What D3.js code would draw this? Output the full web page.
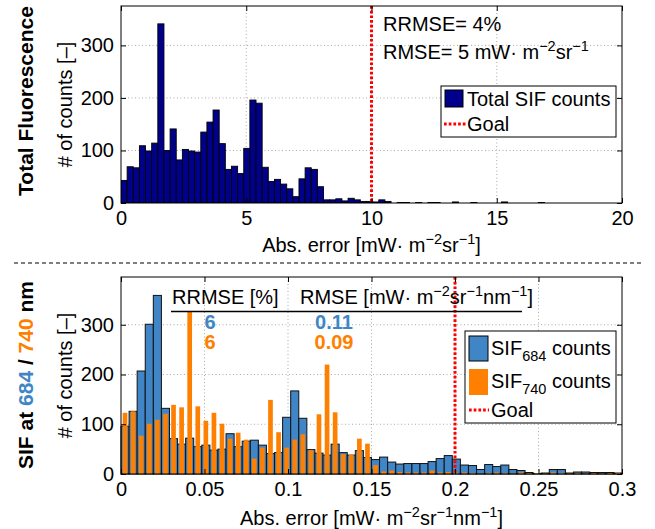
<!DOCTYPE html>
<html>
<head>
<meta charset="utf-8">
<script src="https://cdn.jsdelivr.net/npm/d3@7"></script>
<style>
  body { margin: 0; background: #fff; }
  text { font-family: "Liberation Sans", Arial, Helvetica, sans-serif; }
</style>
</head>
<body>
<svg id="chart" width="655" height="529"></svg>
<script>
// histogram counts
const topBinWidth = 0.245;
const totalSifCounts = [43,69,67,109,99,114,341,100,141,82,102,99,97,135,154,177,113,64,70,56,
  104,196,190,68,41,45,36,27,12,46,67,64,31,6,6,8,4,9,6,3,3,2,6,3,0,1,1,0,1,0,1,1,0,0,2,0,0,1,
  0,0,0,0,2,0,0,0,0,0,1,0,0,0,0,0,0,0,0,0,0,0,0,0];

const botBinWidth = 0.3 / 62;
const sif684Counts = [96,126,207,301,359,132,71,60,72,55,58,48,50,81,55,66,68,58,41,43,114,167,112,
  49,42,38,60,43,38,47,33,29,34,24,20,21,21,21,25,31,37,30,18,17,9,19,15,18,9,7,3,1,2,9,9,2,4,4,3,3,3,2];
const sif740Counts = [123,126,77,101,109,121,139,134,327,136,107,123,101,71,83,69,31,53,149,84,53,69,
  80,48,120,220,124,40,39,71,61,18,5,7,4,3,3,3,7,3,4,2,3,2,1,2,3,2,1,3,2,2,1,3,2,1,2,1,2,1,2,2];

const topXTicks = [0, 5, 10, 15, 20];
const topYTicks = [0, 100, 200, 300];
const botXTicks = [0, 0.05, 0.1, 0.15, 0.2, 0.25, 0.3];
const botXLabels = ["0", "0.05", "0.1", "0.15", "0.2", "0.25", "0.3"];
const botYTicks = [0, 100, 200, 300];
const goalTop = 10, goalBot = 0.2;

const FONT = 20;
const NAVY = "#00008b", BLUE = "#4086c6", ORANGE = "#ff8000", RED = "#ff0000";

const svg = d3.select("#chart");

const xTop = d3.scaleLinear().domain([0, 20]).range([121, 622]);
const yTop = d3.scaleLinear().domain([0, 375]).range([203, 6]);
const xBot = d3.scaleLinear().domain([0, 0.3]).range([121, 622]);
const yBot = d3.scaleLinear().domain([0, 396]).range([474, 277]);

function grid(x, y, xt, yt) {
  const g = svg.append("g").attr("stroke", "#aaa").attr("stroke-dasharray", "1,2.5");
  const [x0, x1] = x.range(), [y0, y1] = y.range();
  g.selectAll(".gx").data(xt.slice(1, -1)).join("line")
    .attr("x1", d => x(d)).attr("x2", d => x(d)).attr("y1", y0).attr("y2", y1);
  g.selectAll(".gy").data(yt.slice(1)).join("line")
    .attr("x1", x0).attr("x2", x1).attr("y1", d => y(d)).attr("y2", d => y(d));
}

function axes(x, y, xt, xfmt, yt) {
  const [x0, x1] = x.range(), [y0, y1] = y.range();
  const g = svg.append("g");
  g.append("g").attr("transform", `translate(0,${y0})`)
    .call(d3.axisBottom(x).tickValues(xt).tickFormat(xfmt).tickSize(-5).tickPadding(8));
  g.append("g").attr("transform", `translate(0,${y1})`)
    .call(d3.axisTop(x).tickValues(xt).tickFormat("").tickSize(-5));
  g.append("g").attr("transform", `translate(${x0},0)`)
    .call(d3.axisLeft(y).tickValues(yt).tickFormat(d3.format("d")).tickSize(-5).tickPadding(7));
  g.append("g").attr("transform", `translate(${x1},0)`)
    .call(d3.axisRight(y).tickValues(yt).tickFormat("").tickSize(-5));
  g.selectAll(".domain").remove();
  g.selectAll("text").attr("font-size", FONT).attr("font-family", null).attr("fill", "#000");
  g.append("rect").attr("x", x0).attr("y", y1).attr("width", x1 - x0).attr("height", y0 - y1)
    .attr("fill", "none").attr("stroke", "#000").attr("stroke-width", 1);
}

// text with super/subscripts: parts = [[string, "sup"|"sub"|null, color]]
function rich(parent, x, y, parts, opt = {}) {
  const t = parent.append("text").attr("x", x).attr("y", y)
    .attr("font-size", opt.size || FONT)
    .attr("font-weight", opt.bold ? "bold" : null)
    .attr("text-anchor", opt.anchor || "start");
  let shift = 0;
  parts.forEach(([s, kind, color]) => {
    const target = kind === "sup" ? -8 : kind === "sub" ? 6 : 0;
    t.append("tspan").attr("dy", target - shift)
      .attr("font-size", kind ? 14.5 : null)
      .attr("fill", color || null).text(s);
    shift = target;
  });
  return t;
}

function rotated(x, y, parts, opt) {
  const g = svg.append("g").attr("transform", `translate(${x},${y}) rotate(-90)`);
  rich(g, 0, 0, parts, Object.assign({ anchor: "middle" }, opt));
}

svg.append("defs").append("clipPath").attr("id", "clipTop")
  .append("rect").attr("x", 121).attr("y", 6).attr("width", 501).attr("height", 197);

// ---------- top panel ----------
grid(xTop, yTop, topXTicks, topYTicks);

svg.append("g").attr("clip-path", "url(#clipTop)")
  .selectAll("rect").data(totalSifCounts.map((c, i) => ({ c, i })).filter(d => d.c > 0)).join("rect")
  .attr("x", d => xTop(d.i * topBinWidth))
  .attr("width", xTop(topBinWidth) - xTop(0))
  .attr("y", d => yTop(d.c))
  .attr("height", d => yTop(0) - yTop(d.c))
  .attr("fill", NAVY).attr("stroke", "#000").attr("stroke-width", 0.9);

svg.append("line").attr("x1", xTop(goalTop)).attr("x2", xTop(goalTop))
  .attr("y1", yTop.range()[1]).attr("y2", yTop.range()[0])
  .attr("stroke", RED).attr("stroke-width", 3).attr("stroke-dasharray", "2.7,2");

axes(xTop, yTop, topXTicks, d3.format("d"), topYTicks);

rich(svg, 383, 31, [["RRMSE= 4%"]]);
rich(svg, 383, 59, [["RMSE= 5 mW· m"], ["−2", "sup"], ["sr"], ["−1", "sup"]]);

// legend top
const lt = svg.append("g");
lt.append("rect").attr("x", 441).attr("y", 86).attr("width", 175).attr("height", 51)
  .attr("fill", "#fff").attr("stroke", "#000");
lt.append("rect").attr("x", 445).attr("y", 90).attr("width", 18).attr("height", 17)
  .attr("fill", NAVY).attr("stroke", "#000");
rich(lt, 467, 106, [["Total SIF counts"]]);
lt.append("line").attr("x1", 444).attr("x2", 466).attr("y1", 124).attr("y2", 124)
  .attr("stroke", RED).attr("stroke-width", 3).attr("stroke-dasharray", "2.7,2");
rich(lt, 467, 131, [["Goal"]]);

rich(svg, 371.5, 252, [["Abs. error [mW· m"], ["−2", "sup"], ["sr"], ["−1", "sup"], ["]"]], { anchor: "middle" });
rotated(72, 104.5, [["# of counts [–]"]]);
rotated(33, 101, [["Total Fluorescence"]], { bold: true, size: 21 });

// separator
svg.append("line").attr("x1", 14).attr("x2", 642).attr("y1", 263).attr("y2", 263)
  .attr("stroke", "#000").attr("stroke-dasharray", "4,3");

// ---------- bottom panel ----------
grid(xBot, yBot, botXTicks, botYTicks);

const bw = xBot(botBinWidth) - xBot(0);
svg.append("g").selectAll("rect").data(sif684Counts).join("rect")
  .attr("x", (c, i) => xBot(i * botBinWidth))
  .attr("width", bw)
  .attr("y", c => yBot(c))
  .attr("height", c => yBot(0) - yBot(c))
  .attr("fill", BLUE).attr("stroke", "#111").attr("stroke-width", 1);

svg.append("g").selectAll("rect").data(sif740Counts).join("rect")
  .attr("x", (c, i) => xBot((i + 0.5) * botBinWidth) - bw * 0.29)
  .attr("width", bw * 0.58)
  .attr("y", c => yBot(c))
  .attr("height", c => yBot(0) - yBot(c))
  .attr("fill", ORANGE);

svg.append("line").attr("x1", xBot(goalBot)).attr("x2", xBot(goalBot))
  .attr("y1", yBot.range()[1]).attr("y2", yBot.range()[0])
  .attr("stroke", RED).attr("stroke-width", 3).attr("stroke-dasharray", "2.7,2");

axes(xBot, yBot, botXTicks, (d, i) => botXLabels[i], botYTicks);

// table
rich(svg, 172, 304, [["RRMSE [%]"]]);
rich(svg, 300, 304, [["RMSE [mW· m"], ["−2", "sup"], ["sr"], ["−1", "sup"], ["nm"], ["−1", "sup"], ["]"]]);
svg.append("line").attr("x1", 171).attr("x2", 522).attr("y1", 311.5).attr("y2", 311.5)
  .attr("stroke", "#000").attr("stroke-width", 1.3);
rich(svg, 210, 329, [["6", null, BLUE]], { anchor: "middle", bold: true });
rich(svg, 210, 349, [["6", null, ORANGE]], { anchor: "middle", bold: true });
rich(svg, 334, 329, [["0.11", null, BLUE]], { anchor: "middle", bold: true });
rich(svg, 334, 349, [["0.09", null, ORANGE]], { anchor: "middle", bold: true });

// legend bottom
const lb = svg.append("g");
lb.append("rect").attr("x", 465).attr("y", 331).attr("width", 151).attr("height", 92)
  .attr("fill", "#fff").attr("stroke", "#000");
lb.append("rect").attr("x", 469).attr("y", 336).attr("width", 19).attr("height", 25)
  .attr("fill", BLUE).attr("stroke", "#000");
rich(lb, 491, 355, [["SIF"], ["684", "sub"], [" counts"]]);
lb.append("rect").attr("x", 469).attr("y", 369).attr("width", 19).attr("height", 26)
  .attr("fill", ORANGE);
rich(lb, 491, 388, [["SIF"], ["740", "sub"], [" counts"]]);
lb.append("line").attr("x1", 469).attr("x2", 489).attr("y1", 410).attr("y2", 410)
  .attr("stroke", RED).attr("stroke-width", 3).attr("stroke-dasharray", "2.7,2");
rich(lb, 491, 417, [["Goal"]]);

rich(svg, 371.5, 525, [["Abs. error [mW· m"], ["−2", "sup"], ["sr"], ["−1", "sup"], ["nm"], ["−1", "sup"], ["]"]], { anchor: "middle" });
rotated(72, 375.5, [["# of counts [–]"]]);
rotated(33, 375, [["SIF at "], ["684", null, BLUE], [" / "], ["740", null, ORANGE], [" nm"]], { bold: true, size: 21 });
</script>
</body>
</html>
